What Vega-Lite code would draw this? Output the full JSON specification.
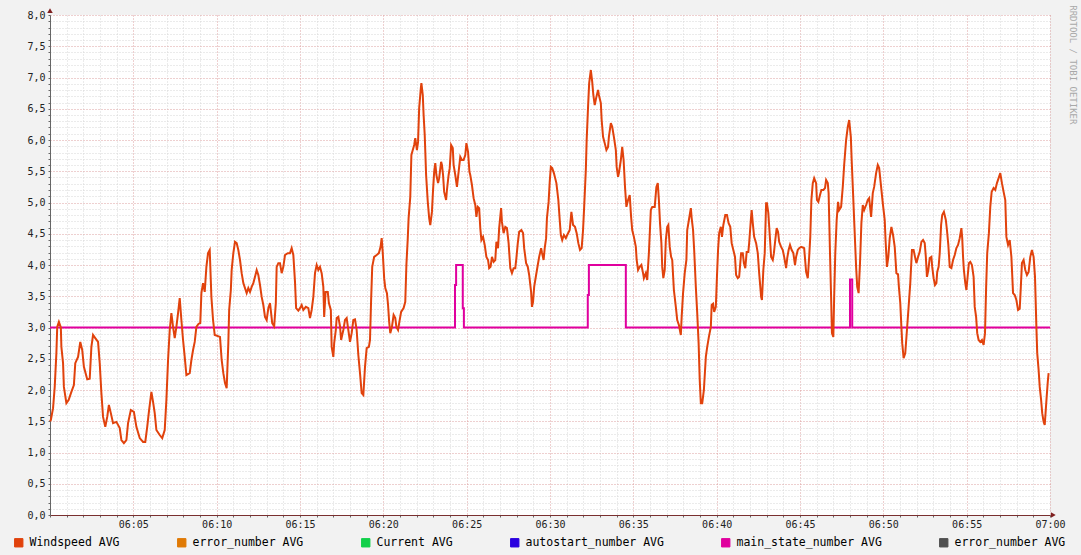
{
  "$schema": "https://vega.github.io/schema/vega-lite/v6.json",
  "width": 1000,
  "height": 500,
  "autosize": {"type": "none"},
  "padding": {"left": 50, "top": 15, "right": 31, "bottom": 40},
  "background": "#F2F2F2",
  "title": {"text": "RRDTOOL / TOBI OETIKER", "orient": "right", "anchor": "start", "angle": 90, "font": "DejaVu Sans Mono", "fontSize": 9, "fontWeight": "normal", "color": "#A8A8A8", "offset": 2, "dx": -3},
  "config": {
    "view": {"fill": "#FFFFFF", "stroke": null},
    "axis": {"labelFont": "DejaVu Sans Mono", "labelFontSize": 10, "labelColor": "#222222", "labelOverlap": false, "labelFlush": false, "gridDash": [1, 2], "gridWidth": 1, "tickSize": 2, "tickColor": "#666666", "title": null}
  },
  "datasets": {
    "windspeed": [
      {"t":0,"v":1.5},{"t":3,"v":1.52},{"t":11,"v":1.71},{"t":17,"v":2.05},{"t":23,"v":2.59},{"t":26,"v":3.01},{"t":32,"v":3.09},{"t":39,"v":3.0},{"t":41,"v":2.69},{"t":47,"v":2.43},{"t":50,"v":2.05},{"t":59,"v":1.79},{"t":67,"v":1.84},{"t":77,"v":1.97},{"t":86,"v":2.08},{"t":91,"v":2.43},{"t":101,"v":2.53},{"t":109,"v":2.77},{"t":116,"v":2.64},{"t":122,"v":2.37},{"t":134,"v":2.17},{"t":143,"v":2.18},{"t":149,"v":2.69},{"t":155,"v":2.88},{"t":163,"v":2.83},{"t":173,"v":2.77},{"t":179,"v":2.43},{"t":185,"v":1.95},{"t":191,"v":1.57},{"t":199,"v":1.41},{"t":206,"v":1.57},{"t":212,"v":1.76},{"t":219,"v":1.63},{"t":227,"v":1.47},{"t":239,"v":1.49},{"t":251,"v":1.39},{"t":257,"v":1.2},{"t":266,"v":1.15},{"t":275,"v":1.2},{"t":281,"v":1.47},{"t":291,"v":1.68},{"t":302,"v":1.65},{"t":311,"v":1.41},{"t":323,"v":1.23},{"t":335,"v":1.17},{"t":343,"v":1.17},{"t":350,"v":1.41},{"t":356,"v":1.65},{"t":365,"v":1.97},{"t":371,"v":1.81},{"t":377,"v":1.63},{"t":383,"v":1.36},{"t":395,"v":1.28},{"t":404,"v":1.23},{"t":413,"v":1.36},{"t":419,"v":1.84},{"t":425,"v":2.48},{"t":431,"v":2.96},{"t":437,"v":3.23},{"t":443,"v":3.01},{"t":449,"v":2.83},{"t":455,"v":3.01},{"t":461,"v":3.23},{"t":467,"v":3.47},{"t":473,"v":3.12},{"t":479,"v":2.8},{"t":485,"v":2.53},{"t":491,"v":2.24},{"t":503,"v":2.27},{"t":509,"v":2.48},{"t":515,"v":2.64},{"t":521,"v":2.77},{"t":527,"v":3.01},{"t":535,"v":3.06},{"t":541,"v":3.07},{"t":545,"v":3.55},{"t":551,"v":3.71},{"t":557,"v":3.57},{"t":563,"v":3.97},{"t":569,"v":4.19},{"t":575,"v":4.24},{"t":581,"v":3.49},{"t":587,"v":3.12},{"t":593,"v":2.88},{"t":612,"v":2.85},{"t":618,"v":2.48},{"t":624,"v":2.27},{"t":630,"v":2.11},{"t":636,"v":2.03},{"t":642,"v":2.75},{"t":645,"v":3.28},{"t":651,"v":3.6},{"t":654,"v":3.92},{"t":660,"v":4.19},{"t":666,"v":4.37},{"t":672,"v":4.35},{"t":678,"v":4.24},{"t":684,"v":4.08},{"t":690,"v":3.87},{"t":696,"v":3.71},{"t":702,"v":3.63},{"t":708,"v":3.55},{"t":714,"v":3.63},{"t":720,"v":3.57},{"t":726,"v":3.65},{"t":732,"v":3.71},{"t":738,"v":3.81},{"t":744,"v":3.92},{"t":750,"v":3.84},{"t":756,"v":3.68},{"t":762,"v":3.49},{"t":768,"v":3.36},{"t":774,"v":3.17},{"t":780,"v":3.12},{"t":786,"v":3.31},{"t":792,"v":3.39},{"t":796,"v":3.23},{"t":800,"v":3.07},{"t":807,"v":3.02},{"t":813,"v":3.39},{"t":816,"v":3.97},{"t":822,"v":4.03},{"t":828,"v":4.03},{"t":834,"v":3.87},{"t":840,"v":3.97},{"t":846,"v":4.16},{"t":856,"v":4.19},{"t":864,"v":4.19},{"t":870,"v":4.27},{"t":876,"v":4.16},{"t":882,"v":3.73},{"t":886,"v":3.31},{"t":894,"v":3.27},{"t":900,"v":3.31},{"t":906,"v":3.36},{"t":912,"v":3.28},{"t":921,"v":3.33},{"t":930,"v":3.31},{"t":936,"v":3.15},{"t":942,"v":3.28},{"t":948,"v":3.49},{"t":954,"v":3.87},{"t":960,"v":4.0},{"t":966,"v":3.92},{"t":972,"v":3.97},{"t":978,"v":3.87},{"t":984,"v":3.65},{"t":987,"v":3.17},{"t":992,"v":3.57},{"t":1000,"v":3.57},{"t":1004,"v":3.39},{"t":1011,"v":3.28},{"t":1014,"v":2.69},{"t":1020,"v":2.53},{"t":1023,"v":2.75},{"t":1029,"v":2.96},{"t":1032,"v":3.15},{"t":1038,"v":3.17},{"t":1044,"v":3.02},{"t":1048,"v":2.8},{"t":1052,"v":2.88},{"t":1056,"v":2.96},{"t":1062,"v":3.12},{"t":1068,"v":3.15},{"t":1074,"v":2.96},{"t":1080,"v":2.77},{"t":1086,"v":2.91},{"t":1092,"v":3.12},{"t":1098,"v":3.13},{"t":1104,"v":2.96},{"t":1110,"v":2.56},{"t":1116,"v":2.27},{"t":1122,"v":1.95},{"t":1128,"v":1.92},{"t":1134,"v":2.37},{"t":1140,"v":2.67},{"t":1148,"v":2.69},{"t":1152,"v":2.8},{"t":1156,"v":3.44},{"t":1160,"v":3.97},{"t":1167,"v":4.13},{"t":1176,"v":4.16},{"t":1184,"v":4.19},{"t":1190,"v":4.29},{"t":1194,"v":4.43},{"t":1198,"v":4.19},{"t":1203,"v":3.79},{"t":1207,"v":3.63},{"t":1213,"v":3.55},{"t":1217,"v":3.36},{"t":1221,"v":3.09},{"t":1225,"v":2.91},{"t":1231,"v":3.01},{"t":1237,"v":3.2},{"t":1243,"v":3.15},{"t":1247,"v":3.01},{"t":1253,"v":2.96},{"t":1257,"v":3.07},{"t":1264,"v":3.25},{"t":1273,"v":3.31},{"t":1279,"v":3.41},{"t":1283,"v":4.0},{"t":1288,"v":4.43},{"t":1291,"v":4.75},{"t":1297,"v":5.09},{"t":1301,"v":5.76},{"t":1306,"v":5.84},{"t":1311,"v":5.92},{"t":1315,"v":6.03},{"t":1321,"v":5.84},{"t":1325,"v":5.97},{"t":1329,"v":6.51},{"t":1335,"v":6.83},{"t":1337,"v":6.91},{"t":1342,"v":6.72},{"t":1345,"v":6.4},{"t":1349,"v":6.08},{"t":1354,"v":5.44},{"t":1360,"v":5.01},{"t":1365,"v":4.75},{"t":1369,"v":4.64},{"t":1375,"v":4.85},{"t":1379,"v":5.2},{"t":1383,"v":5.49},{"t":1387,"v":5.63},{"t":1391,"v":5.44},{"t":1397,"v":5.31},{"t":1401,"v":5.39},{"t":1408,"v":5.65},{"t":1411,"v":5.6},{"t":1415,"v":5.44},{"t":1419,"v":5.17},{"t":1426,"v":5.04},{"t":1429,"v":5.2},{"t":1435,"v":5.44},{"t":1439,"v":5.55},{"t":1444,"v":5.92},{"t":1450,"v":5.87},{"t":1453,"v":5.6},{"t":1459,"v":5.44},{"t":1465,"v":5.25},{"t":1471,"v":5.49},{"t":1477,"v":5.73},{"t":1483,"v":5.68},{"t":1489,"v":5.68},{"t":1495,"v":5.76},{"t":1499,"v":5.95},{"t":1505,"v":5.81},{"t":1510,"v":5.49},{"t":1513,"v":5.44},{"t":1519,"v":5.28},{"t":1525,"v":5.07},{"t":1531,"v":4.96},{"t":1535,"v":4.77},{"t":1540,"v":4.93},{"t":1545,"v":4.91},{"t":1549,"v":4.59},{"t":1553,"v":4.4},{"t":1559,"v":4.45},{"t":1565,"v":4.32},{"t":1571,"v":4.13},{"t":1577,"v":4.08},{"t":1581,"v":3.95},{"t":1586,"v":3.97},{"t":1591,"v":4.13},{"t":1597,"v":4.05},{"t":1603,"v":4.08},{"t":1607,"v":4.37},{"t":1613,"v":4.27},{"t":1617,"v":4.59},{"t":1624,"v":4.91},{"t":1627,"v":4.69},{"t":1633,"v":4.51},{"t":1639,"v":4.61},{"t":1645,"v":4.59},{"t":1651,"v":4.35},{"t":1657,"v":3.95},{"t":1663,"v":3.87},{"t":1669,"v":3.95},{"t":1675,"v":3.95},{"t":1679,"v":4.11},{"t":1684,"v":4.35},{"t":1689,"v":4.53},{"t":1697,"v":4.56},{"t":1703,"v":4.51},{"t":1707,"v":4.27},{"t":1714,"v":4.03},{"t":1720,"v":3.97},{"t":1725,"v":3.84},{"t":1732,"v":3.57},{"t":1735,"v":3.33},{"t":1739,"v":3.41},{"t":1743,"v":3.65},{"t":1750,"v":3.84},{"t":1756,"v":4.0},{"t":1761,"v":4.13},{"t":1768,"v":4.27},{"t":1771,"v":4.2},{"t":1777,"v":4.08},{"t":1781,"v":4.27},{"t":1786,"v":4.43},{"t":1789,"v":4.75},{"t":1795,"v":5.01},{"t":1799,"v":5.33},{"t":1803,"v":5.57},{"t":1808,"v":5.55},{"t":1814,"v":5.47},{"t":1823,"v":5.31},{"t":1830,"v":5.04},{"t":1835,"v":4.72},{"t":1839,"v":4.48},{"t":1844,"v":4.4},{"t":1850,"v":4.48},{"t":1857,"v":4.43},{"t":1862,"v":4.48},{"t":1871,"v":4.56},{"t":1877,"v":4.85},{"t":1883,"v":4.64},{"t":1890,"v":4.61},{"t":1896,"v":4.51},{"t":1902,"v":4.35},{"t":1908,"v":4.24},{"t":1914,"v":4.27},{"t":1919,"v":4.56},{"t":1923,"v":4.93},{"t":1929,"v":5.52},{"t":1932,"v":6.0},{"t":1937,"v":6.53},{"t":1941,"v":6.91},{"t":1947,"v":7.12},{"t":1952,"v":6.93},{"t":1956,"v":6.72},{"t":1961,"v":6.56},{"t":1967,"v":6.69},{"t":1973,"v":6.8},{"t":1976,"v":6.72},{"t":1983,"v":6.59},{"t":1986,"v":6.32},{"t":1991,"v":6.05},{"t":1997,"v":5.95},{"t":2003,"v":5.84},{"t":2009,"v":5.89},{"t":2012,"v":6.05},{"t":2019,"v":6.27},{"t":2024,"v":6.21},{"t":2030,"v":6.05},{"t":2037,"v":5.84},{"t":2040,"v":5.57},{"t":2045,"v":5.41},{"t":2048,"v":5.47},{"t":2055,"v":5.68},{"t":2060,"v":5.89},{"t":2065,"v":5.68},{"t":2070,"v":5.25},{"t":2075,"v":4.93},{"t":2081,"v":5.04},{"t":2087,"v":5.12},{"t":2092,"v":4.77},{"t":2096,"v":4.56},{"t":2102,"v":4.45},{"t":2109,"v":4.29},{"t":2112,"v":4.08},{"t":2117,"v":3.92},{"t":2123,"v":3.97},{"t":2129,"v":4.0},{"t":2135,"v":3.87},{"t":2138,"v":3.79},{"t":2145,"v":3.87},{"t":2150,"v":3.76},{"t":2156,"v":4.19},{"t":2163,"v":4.88},{"t":2168,"v":4.93},{"t":2177,"v":4.93},{"t":2183,"v":5.25},{"t":2188,"v":5.31},{"t":2192,"v":5.04},{"t":2196,"v":4.67},{"t":2201,"v":4.35},{"t":2204,"v":3.97},{"t":2208,"v":3.79},{"t":2213,"v":3.92},{"t":2217,"v":4.4},{"t":2222,"v":4.61},{"t":2226,"v":4.64},{"t":2231,"v":4.29},{"t":2236,"v":4.13},{"t":2240,"v":4.08},{"t":2246,"v":3.6},{"t":2253,"v":3.33},{"t":2258,"v":3.12},{"t":2264,"v":3.04},{"t":2271,"v":2.88},{"t":2274,"v":3.17},{"t":2279,"v":3.55},{"t":2285,"v":3.87},{"t":2291,"v":4.08},{"t":2294,"v":4.56},{"t":2300,"v":4.72},{"t":2307,"v":4.91},{"t":2310,"v":4.75},{"t":2315,"v":4.56},{"t":2319,"v":4.24},{"t":2325,"v":3.65},{"t":2330,"v":3.23},{"t":2335,"v":2.75},{"t":2339,"v":2.16},{"t":2343,"v":1.79},{"t":2348,"v":1.79},{"t":2354,"v":2.0},{"t":2361,"v":2.53},{"t":2366,"v":2.69},{"t":2372,"v":2.85},{"t":2379,"v":3.01},{"t":2382,"v":3.36},{"t":2387,"v":3.38},{"t":2391,"v":3.25},{"t":2397,"v":3.33},{"t":2401,"v":3.81},{"t":2405,"v":4.24},{"t":2409,"v":4.51},{"t":2415,"v":4.61},{"t":2419,"v":4.45},{"t":2424,"v":4.64},{"t":2431,"v":4.8},{"t":2437,"v":4.8},{"t":2443,"v":4.67},{"t":2449,"v":4.61},{"t":2454,"v":4.35},{"t":2460,"v":4.24},{"t":2466,"v":4.13},{"t":2470,"v":3.84},{"t":2476,"v":3.79},{"t":2481,"v":3.81},{"t":2488,"v":4.19},{"t":2494,"v":4.19},{"t":2498,"v":4.03},{"t":2503,"v":3.95},{"t":2508,"v":4.21},{"t":2514,"v":4.21},{"t":2517,"v":4.35},{"t":2523,"v":4.72},{"t":2526,"v":4.88},{"t":2530,"v":4.67},{"t":2535,"v":4.45},{"t":2542,"v":4.35},{"t":2548,"v":4.19},{"t":2553,"v":3.87},{"t":2560,"v":3.49},{"t":2563,"v":3.44},{"t":2568,"v":3.92},{"t":2573,"v":4.19},{"t":2578,"v":4.99},{"t":2581,"v":4.99},{"t":2586,"v":4.83},{"t":2591,"v":4.48},{"t":2596,"v":4.13},{"t":2602,"v":4.08},{"t":2606,"v":4.19},{"t":2611,"v":4.4},{"t":2616,"v":4.59},{"t":2621,"v":4.53},{"t":2625,"v":4.37},{"t":2632,"v":4.29},{"t":2638,"v":4.24},{"t":2643,"v":4.13},{"t":2650,"v":3.95},{"t":2654,"v":4.11},{"t":2659,"v":4.24},{"t":2664,"v":4.32},{"t":2670,"v":4.24},{"t":2676,"v":4.19},{"t":2682,"v":4.0},{"t":2686,"v":4.13},{"t":2692,"v":4.24},{"t":2697,"v":4.27},{"t":2704,"v":4.29},{"t":2710,"v":4.28},{"t":2715,"v":4.27},{"t":2722,"v":3.89},{"t":2728,"v":3.79},{"t":2733,"v":4.13},{"t":2737,"v":4.45},{"t":2741,"v":5.04},{"t":2746,"v":5.31},{"t":2751,"v":5.39},{"t":2758,"v":5.31},{"t":2761,"v":5.04},{"t":2766,"v":5.01},{"t":2772,"v":5.12},{"t":2777,"v":5.2},{"t":2784,"v":5.2},{"t":2790,"v":5.23},{"t":2794,"v":5.36},{"t":2800,"v":5.31},{"t":2803,"v":5.15},{"t":2808,"v":4.19},{"t":2812,"v":3.49},{"t":2815,"v":2.91},{"t":2820,"v":2.85},{"t":2823,"v":3.49},{"t":2827,"v":4.19},{"t":2832,"v":4.72},{"t":2837,"v":5.01},{"t":2841,"v":4.88},{"t":2848,"v":4.93},{"t":2854,"v":5.25},{"t":2859,"v":5.6},{"t":2866,"v":6.0},{"t":2872,"v":6.21},{"t":2877,"v":6.32},{"t":2883,"v":6.05},{"t":2886,"v":5.68},{"t":2891,"v":5.15},{"t":2896,"v":4.61},{"t":2902,"v":3.97},{"t":2906,"v":3.65},{"t":2911,"v":3.55},{"t":2916,"v":4.03},{"t":2921,"v":4.67},{"t":2926,"v":4.96},{"t":2931,"v":4.88},{"t":2938,"v":4.96},{"t":2944,"v":5.04},{"t":2949,"v":5.07},{"t":2956,"v":4.77},{"t":2962,"v":5.15},{"t":2967,"v":5.25},{"t":2974,"v":5.47},{"t":2980,"v":5.6},{"t":2985,"v":5.55},{"t":2992,"v":5.25},{"t":2998,"v":4.99},{"t":3005,"v":4.72},{"t":3008,"v":4.4},{"t":3013,"v":3.97},{"t":3018,"v":4.13},{"t":3023,"v":4.43},{"t":3029,"v":4.61},{"t":3035,"v":4.48},{"t":3041,"v":4.29},{"t":3047,"v":3.87},{"t":3053,"v":3.85},{"t":3056,"v":3.65},{"t":3061,"v":3.39},{"t":3065,"v":3.01},{"t":3068,"v":2.75},{"t":3073,"v":2.51},{"t":3079,"v":2.59},{"t":3085,"v":2.96},{"t":3091,"v":3.33},{"t":3097,"v":3.71},{"t":3103,"v":4.24},{"t":3109,"v":4.24},{"t":3114,"v":4.13},{"t":3119,"v":4.03},{"t":3125,"v":4.13},{"t":3131,"v":4.21},{"t":3137,"v":4.37},{"t":3143,"v":4.4},{"t":3149,"v":4.35},{"t":3153,"v":4.13},{"t":3157,"v":3.81},{"t":3162,"v":3.92},{"t":3167,"v":4.11},{"t":3173,"v":4.13},{"t":3176,"v":3.97},{"t":3181,"v":3.79},{"t":3186,"v":3.68},{"t":3191,"v":3.71},{"t":3194,"v":3.89},{"t":3199,"v":3.97},{"t":3203,"v":4.19},{"t":3208,"v":4.64},{"t":3212,"v":4.8},{"t":3218,"v":4.85},{"t":3225,"v":4.72},{"t":3229,"v":4.56},{"t":3234,"v":4.32},{"t":3239,"v":3.97},{"t":3245,"v":3.95},{"t":3251,"v":4.08},{"t":3257,"v":4.16},{"t":3263,"v":4.27},{"t":3269,"v":4.32},{"t":3275,"v":4.43},{"t":3281,"v":4.59},{"t":3284,"v":4.43},{"t":3287,"v":4.13},{"t":3290,"v":3.92},{"t":3295,"v":3.71},{"t":3299,"v":3.6},{"t":3304,"v":3.84},{"t":3308,"v":4.03},{"t":3313,"v":4.05},{"t":3319,"v":4.0},{"t":3325,"v":3.81},{"t":3329,"v":3.33},{"t":3334,"v":3.17},{"t":3338,"v":2.91},{"t":3343,"v":2.8},{"t":3349,"v":2.77},{"t":3355,"v":2.8},{"t":3361,"v":2.72},{"t":3366,"v":2.91},{"t":3370,"v":3.63},{"t":3374,"v":4.19},{"t":3380,"v":4.51},{"t":3385,"v":4.93},{"t":3390,"v":5.17},{"t":3397,"v":5.23},{"t":3403,"v":5.2},{"t":3409,"v":5.31},{"t":3415,"v":5.39},{"t":3421,"v":5.47},{"t":3427,"v":5.31},{"t":3433,"v":5.17},{"t":3439,"v":5.04},{"t":3443,"v":4.45},{"t":3449,"v":4.32},{"t":3455,"v":4.4},{"t":3461,"v":4.13},{"t":3467,"v":3.55},{"t":3473,"v":3.52},{"t":3479,"v":3.44},{"t":3485,"v":3.28},{"t":3491,"v":3.3},{"t":3495,"v":3.65},{"t":3499,"v":4.03},{"t":3505,"v":4.08},{"t":3511,"v":3.92},{"t":3517,"v":3.84},{"t":3523,"v":3.89},{"t":3529,"v":4.13},{"t":3535,"v":4.24},{"t":3541,"v":4.13},{"t":3546,"v":3.81},{"t":3551,"v":3.01},{"t":3554,"v":2.59},{"t":3559,"v":2.32},{"t":3563,"v":2.05},{"t":3568,"v":1.84},{"t":3572,"v":1.63},{"t":3577,"v":1.49},{"t":3581,"v":1.44},{"t":3584,"v":1.63},{"t":3588,"v":1.89},{"t":3592,"v":2.13},{"t":3595,"v":2.27}
    ],
    "main_state": [
      {"t":0,"v":3.0},{"t":1458,"v":3.68},{"t":1462,"v":4.0},{"t":1486,"v":3.31},{"t":1490,"v":3.0},{"t":1936,"v":3.52},{"t":1940,"v":4.0},{"t":2073,"v":3.0},{"t":2880,"v":3.77},{"t":2888,"v":3.0},{"t":3600,"v":3.0}
    ]
  },
  "layer": [
    {
      "data": {"name": "main_state"},
      "mark": {"type": "line", "interpolate": "step-after", "strokeWidth": 2, "strokeCap": "butt"},
      "encoding": {
        "x": {"field": "t", "type": "quantitative", "scale": {"domain": [0, 3600], "nice": false, "zero": false},
          "axis": {"values": [0,60,120,180,240,300,360,420,480,540,600,660,720,780,840,900,960,1020,1080,1140,1200,1260,1320,1380,1440,1500,1560,1620,1680,1740,1800,1860,1920,1980,2040,2100,2160,2220,2280,2340,2400,2460,2520,2580,2640,2700,2760,2820,2880,2940,3000,3060,3120,3180,3240,3300,3360,3420,3480,3540,3600],
            "tickCount": 200,
            "labelExpr": "datum.value % 300 == 0 && datum.value > 0 ? (datum.value == 3600 ? '07:00' : '06:' + (datum.value < 600 ? '0' : '') + (datum.value / 60)) : ''",
            "grid": true,
            "gridColor": {"condition": {"test": "datum.value % 300 == 0", "value": "#DDA0A0"}, "value": "#D6D6D6"},
            "domainColor": "#7A3030", "domainWidth": 1, "labelPadding": 2, "labelAngle": 0}},
        "y": {"field": "v", "type": "quantitative", "scale": {"domain": [0, 8], "nice": false, "zero": true},
          "axis": {"values": [0,0.1,0.2,0.3,0.4,0.5,0.6,0.7,0.8,0.9,1,1.1,1.2,1.3,1.4,1.5,1.6,1.7,1.8,1.9,2,2.1,2.2,2.3,2.4,2.5,2.6,2.7,2.8,2.9,3,3.1,3.2,3.3,3.4,3.5,3.6,3.7,3.8,3.9,4,4.1,4.2,4.3,4.4,4.5,4.6,4.7,4.8,4.9,5,5.1,5.2,5.3,5.4,5.5,5.6,5.7,5.8,5.9,6,6.1,6.2,6.3,6.4,6.5,6.6,6.7,6.8,6.9,7,7.1,7.2,7.3,7.4,7.5,7.6,7.7,7.8,7.9,8],
            "tickCount": 200,
            "labelExpr": "abs(datum.value * 2 - round(datum.value * 2)) < 0.001 ? replace(format(datum.value, '.1f'), '.', ',') : ''",
            "grid": true,
            "gridColor": {"condition": {"test": "abs(datum.value * 2 - round(datum.value * 2)) < 0.001", "value": "#DDA0A0"}, "value": "#D6D6D6"},
            "domainColor": "#666666", "domainWidth": 1, "labelPadding": 3}},
        "color": {"datum": "main_state_number AVG", "type": "nominal",
          "scale": {"domain": ["Windspeed AVG", "error_number AVG", "Current AVG", "autostart_number AVG", "main_state_number AVG", "error_number AVG (2)"],
                    "range": ["#E1420C", "#E07A05", "#12D04A", "#2A00E0", "#E0009E", "#505050"]},
          "legend": {"orient": "none", "legendX": -37, "legendY": 522, "direction": "horizontal", "title": null,
            "labelFont": "DejaVu Sans Mono", "labelFontSize": 11.5, "labelColor": "#000000", "labelOffset": 5,
            "columnPadding": 55, "padding": 0, "symbolType": "square", "symbolSize": 70, "symbolStrokeWidth": 1,
            "labelExpr": "replace(datum.label, ' (2)', '')",
            "labelLimit": 300,
            "encode": {"symbols": {"update": {"fill": {"scale": "color", "field": "value"}, "stroke": {"value": "#000000"}, "strokeWidth": {"value": 1}, "opacity": {"value": 1}, "fillOpacity": {"value": 1}}}}}}
      }
    },
    {
      "data": {"name": "windspeed"},
      "mark": {"type": "line", "strokeWidth": 2, "strokeJoin": "miter"},
      "encoding": {
        "x": {"field": "t", "type": "quantitative"},
        "y": {"field": "v", "type": "quantitative"},
        "color": {"datum": "Windspeed AVG", "type": "nominal"}
      }
    },
    {
      "data": {"values": [{}]},
      "mark": {"type": "point", "shape": "triangle-up", "filled": true, "size": 30, "color": "#7F1F1F", "opacity": 1},
      "encoding": {"x": {"datum": 0, "type": "quantitative"}, "y": {"datum": 8.07, "type": "quantitative"}}
    },
    {
      "data": {"values": [{}]},
      "mark": {"type": "point", "shape": "triangle-right", "filled": true, "size": 30, "color": "#7F1F1F", "opacity": 1},
      "encoding": {"x": {"datum": 3612, "type": "quantitative"}, "y": {"datum": 0, "type": "quantitative"}}
    }
  ]
}
